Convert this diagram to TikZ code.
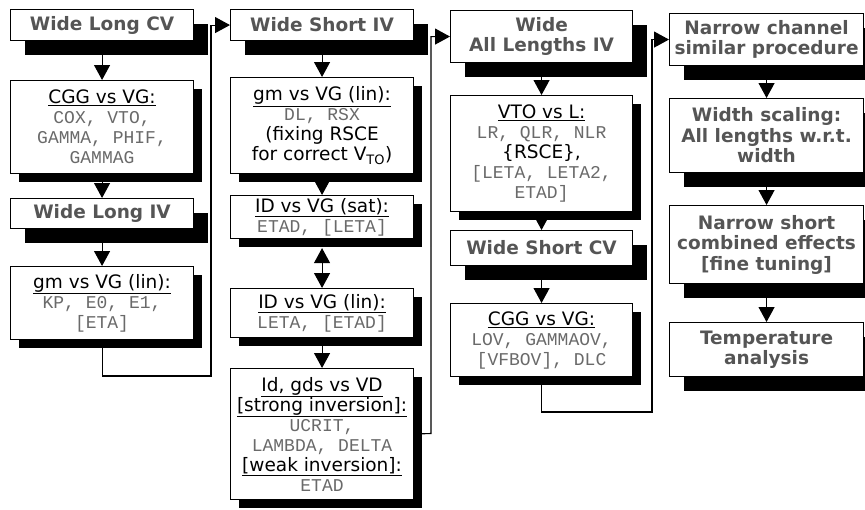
\documentclass[tikz,border=0pt]{standalone}
\usepackage{fontspec}
\setmainfont{DejaVu Sans}
\setmonofont{Liberation Mono}
\usetikzlibrary{arrows.meta,shadows}

\definecolor{hdrgray}{HTML}{555555}
\definecolor{prmgray}{HTML}{6A6A6A}
\newcommand{\prm}[1]{{\fontsize{18}{20}\selectfont\ttfamily\color{prmgray}#1}}

\tikzset{
  box/.style={draw, line width=1.1pt, fill=white, align=center,
    anchor=north west, inner sep=0pt, minimum width=183pt},
  headbox/.style={box, text=hdrgray,
    font=\fontsize{18.5}{20.5}\selectfont\bfseries,
    general shadow={fill=black, shadow xshift=14pt, shadow yshift=-14pt}},
  infobox/.style={box, font=\fontsize{18.5}{20}\selectfont,
    general shadow={fill=black, shadow xshift=8pt, shadow yshift=-8pt}},
  link/.style={line width=1.1pt, -{Triangle[width=16pt,length=15pt]}}
}

\begin{document}
\begin{tikzpicture}[x=1pt,y=-1pt]
  \useasboundingbox (0,0) rectangle (865,509);

  % wide long
  \node[headbox, minimum height=31pt] (wlcv) at (10,9) {Wide Long CV};
  \node[infobox, minimum height=93pt] (cgg1) at (10,80)
    {\underline{CGG vs VG:}\\ \prm{COX, VTO,}\\ \prm{GAMMA, PHIF,}\\ \prm{GAMMAG}};
  \node[headbox, minimum height=30pt] (wliv) at (10,198) {Wide Long IV};
  \node[infobox, minimum height=73pt] (gmlin1) at (10,266)
    {\underline{gm vs VG (lin):}\\ \prm{KP, E0, E1,}\\ \prm{[ETA]}};

  % wide short
  \node[headbox, minimum height=31pt] (wsiv) at (230,9) {Wide Short IV};
  \node[infobox, minimum height=96pt] (gmlin2) at (230,77)
    {\underline{gm vs VG (lin):}\\ \prm{DL, RSX}\\ (fixing RSCE\\ for correct V\textsubscript{TO})};
  \node[infobox, minimum height=43pt] (idsat) at (230,195)
    {\underline{ID vs VG (sat):}\\ \prm{ETAD, [LETA]}};
  \node[infobox, minimum height=49pt] (idlin) at (230,288)
    {\underline{ID vs VG (lin):}\\ \prm{LETA, [ETAD]}};
  \node[infobox, minimum height=131pt] (idvd) at (230,368)
    {\underline{Id, gds vs VD}\\ \underline{[strong inversion]:}\\ \prm{UCRIT,}\\
     \prm{LAMBDA, DELTA}\\ \underline{[weak inversion]:}\\ \prm{ETAD}};

  % all lengths
  \node[headbox, minimum height=52pt, minimum width=182pt] (waliv) at (450,10)
    {Wide\\ All Lengths IV};
  \node[infobox, minimum height=116pt, minimum width=182pt] (vtol) at (450,95)
    {\underline{VTO vs L:}\\ \prm{LR, QLR, NLR}\\ \{RSCE\},\\ \prm{[LETA, LETA2,}\\ \prm{ETAD]}};
  \node[headbox, minimum height=35pt, minimum width=182pt] (wscv) at (450,230)
    {Wide Short CV};
  \node[infobox, minimum height=73pt, minimum width=182pt] (cgg2) at (450,303)
    {\underline{CGG vs VG:}\\ \prm{LOV, GAMMAOV,}\\ \prm{[VFBOV], DLC}};

  % narrow
  \node[headbox, minimum height=52pt, minimum width=194pt] (narrow) at (669,13)
    {Narrow channel\\ similar procedure};
  \node[headbox, minimum height=74pt, minimum width=194pt] (wscale) at (669,98)
    {Width scaling:\\ All lengths w.r.t.\\ width};
  \node[headbox, minimum height=78pt, minimum width=194pt] (nscomb) at (669,205)
    {Narrow short\\ combined effects\\ {[fine tuning]}};
  \node[headbox, minimum height=54pt, minimum width=194pt] (temp) at (669,322)
    {Temperature\\ analysis};

  \coordinate (turn1) at (211,376);
  \coordinate (turn2) at (431,433.5);
  \coordinate (turn3) at (652,412);

  \draw[link] (wlcv) -- (cgg1);
  \draw[link] (cgg1) -- (wliv);
  \draw[link] (wliv) -- (gmlin1);
  \draw[link] (gmlin1.south) |- (turn1) |- (wsiv.west);

  \draw[link] (wsiv) -- (gmlin2);
  \draw[link] (gmlin2) -- (idsat);
  \draw[link, {Triangle[width=16pt,length=15pt]}-{Triangle[width=16pt,length=15pt]}]
    ([yshift=-9pt]idsat.south) -- (idlin.north);
  \draw[link] (idlin) -- (idvd);
  \draw[link] (idvd.east) -- (turn2) |- (waliv.west);

  \draw[link] (waliv) -- (vtol);
  \draw[link] (vtol) -- (wscv);
  \draw[link] (wscv) -- (cgg2);
  \draw[link] (cgg2.south) |- (turn3) |- (narrow.west);

  \draw[link] (narrow) -- (wscale);
  \draw[link] (wscale) -- (nscomb);
  \draw[link] (nscomb) -- (temp);
\end{tikzpicture}
\end{document}
